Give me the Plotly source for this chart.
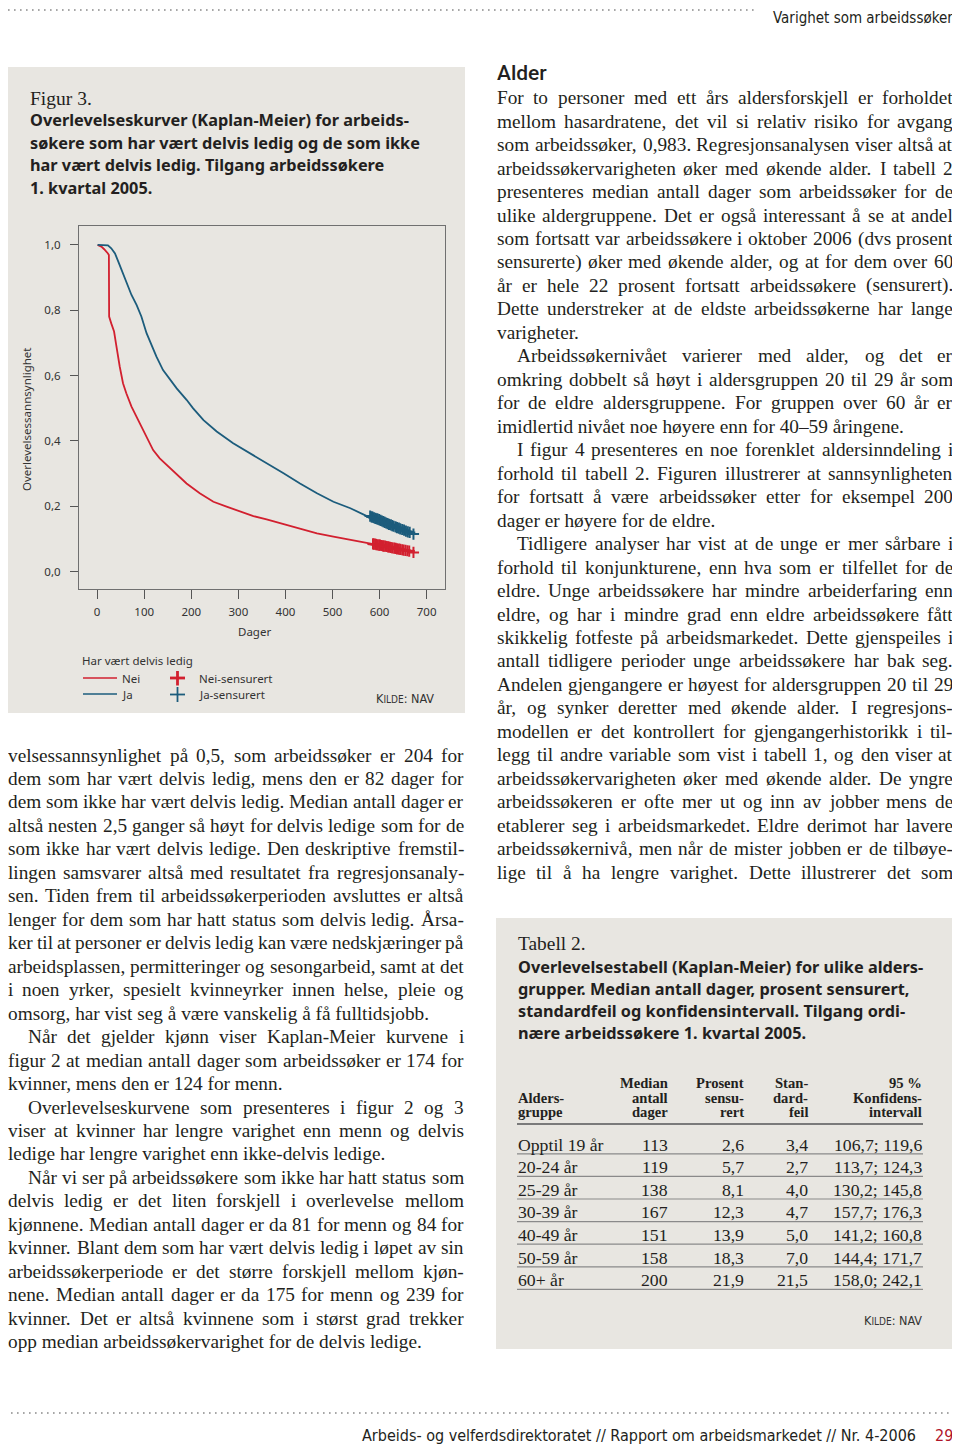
import plotly.graph_objects as go

# ---------------- chart data ----------------
nei_days = [1, 9, 15, 20, 23, 25, 25.5, 30, 36, 40, 43, 48, 55, 62, 73, 84, 98, 109, 119, 133, 148,
            169, 190, 218, 247, 275, 304, 332, 360, 396, 431, 467, 502, 538, 573, 587, 629, 672]
nei_surv = [1.000, 0.995, 0.987, 0.980, 0.974, 0.969, 0.781, 0.760, 0.735, 0.699, 0.668, 0.628, 0.577,
            0.546, 0.505, 0.474, 0.434, 0.403, 0.372, 0.347, 0.327, 0.296, 0.270, 0.240, 0.214, 0.199,
            0.184, 0.170, 0.160, 0.146, 0.133, 0.117, 0.107, 0.097, 0.089, 0.085, 0.073, 0.059]
ja_days = [1, 23, 30, 38, 45, 52, 62, 73, 84, 94, 105, 116, 126, 140, 155, 169, 190, 204, 226, 254,
           289, 325, 360, 396, 431, 467, 502, 538, 573, 608, 644, 672]
ja_surv = [1.000, 0.999, 0.990, 0.974, 0.949, 0.923, 0.883, 0.847, 0.816, 0.781, 0.730, 0.689, 0.658,
           0.617, 0.587, 0.561, 0.526, 0.500, 0.464, 0.429, 0.393, 0.362, 0.334, 0.301, 0.270, 0.240,
           0.214, 0.194, 0.170, 0.153, 0.133, 0.115]
nei_cens_days = [586, 588, 591, 593, 596, 599, 601, 604, 607, 609, 612, 615, 618, 621, 624, 627, 631,
                 634, 637, 641, 644, 648, 651, 655, 659, 663, 672]
nei_cens_surv = [0.085, 0.084, 0.084, 0.083, 0.082, 0.081, 0.081, 0.080, 0.079, 0.078, 0.078, 0.077,
                 0.076, 0.075, 0.074, 0.073, 0.072, 0.071, 0.070, 0.069, 0.068, 0.067, 0.066, 0.065,
                 0.064, 0.063, 0.059]
ja_cens_days = [580, 583, 585, 588, 591, 594, 596, 599, 602, 605, 608, 611, 614, 617, 620, 624, 627,
                630, 634, 637, 641, 644, 648, 652, 656, 660, 664, 672]
ja_cens_surv = [0.170, 0.168, 0.167, 0.165, 0.163, 0.162, 0.161, 0.159, 0.157, 0.155, 0.153, 0.151,
                0.149, 0.147, 0.145, 0.143, 0.141, 0.139, 0.137, 0.135, 0.133, 0.131, 0.129, 0.127,
                0.124, 0.122, 0.120, 0.115]
x_ticks = [0, 100, 200, 300, 400, 500, 600, 700]
y_ticks = [0.0, 0.2, 0.4, 0.6, 0.8, 1.0]

# ---------------- table data ----------------
age_groups = ["Opptil 19 år", "20-24 år", "25-29 år", "30-39 år", "40-49 år", "50-59 år", "60+ år"]
median_days = ["113", "119", "138", "167", "151", "158", "200"]
pct_censored = ["2,6", "5,7", "8,1", "12,3", "13,9", "18,3", "21,9"]
std_err = ["3,4", "2,7", "4,0", "4,7", "5,0", "7,0", "21,5"]
conf_int = ["106,7; 119,6", "113,7; 124,3", "130,2; 145,8", "157,7; 176,3",
            "141,2; 160,8", "144,4; 171,7", "158,0; 242,1"]

# ---------------- page text ----------------
fig_title = ["Overlevelseskurver (Kaplan-Meier) for arbeids-",
             "søkere som har vært delvis ledig og de som ikke",
             "har vært delvis ledig. Tilgang arbeidssøkere",
             "1. kvartal 2005."]
tab_title = ["Overlevelsestabell (Kaplan-Meier) for ulike alders-",
             "grupper. Median antall dager, prosent sensurert,",
             "standardfeil og konfidensintervall. Tilgang ordi-",
             "nære arbeidssøkere 1. kvartal 2005."]
left_paras = [
    (False, True, ["velsessannsynlighet på 0,5, som arbeidssøker er 204 for",
                   "dem som har vært delvis ledig, mens den er 82 dager for",
                   "dem som ikke har vært delvis ledig. Median antall dager er",
                   "altså nesten 2,5 ganger så høyt for delvis ledige som for de",
                   "som ikke har vært delvis ledige. Den deskriptive fremstil-",
                   "lingen samsvarer altså med resultatet fra regresjonsanaly-",
                   "sen. Tiden frem til arbeidssøkerperioden avsluttes er altså",
                   "lenger for dem som har hatt status som delvis ledig. Årsa-",
                   "ker til at personer er delvis ledig kan være nedskjæringer på",
                   "arbeidsplassen, permitteringer og sesongarbeid, samt at det",
                   "i noen yrker, spesielt kvinneyrker innen helse, pleie og",
                   "omsorg, har vist seg å være vanskelig å få fulltidsjobb."]),
    (True, True, ["Når det gjelder kjønn viser Kaplan-Meier kurvene i",
                  "figur 2 at median antall dager som arbeidssøker er 174 for",
                  "kvinner, mens den er 124 for menn."]),
    (True, True, ["Overlevelseskurvene som presenteres i figur 2 og 3",
                  "viser at kvinner har lengre varighet enn menn og delvis",
                  "ledige har lengre varighet enn ikke-delvis ledige."]),
    (True, True, ["Når vi ser på arbeidssøkere som ikke har hatt status som",
                  "delvis ledig er det liten forskjell i overlevelse mellom",
                  "kjønnene. Median antall dager er da 81 for menn og 84 for",
                  "kvinner. Blant dem som har vært delvis ledig i løpet av sin",
                  "arbeidssøkerperiode er det større forskjell mellom kjøn-",
                  "nene. Median antall dager er da 175 for menn og 239 for",
                  "kvinner. Det er altså kvinnene som i størst grad trekker",
                  "opp median arbeidssøkervarighet for de delvis ledige."]),
]
right_paras = [
    (False, True, ["For to personer med ett års aldersforskjell er forholdet",
                   "mellom hasardratene, det vil si relativ risiko for avgang",
                   "som arbeidssøker, 0,983. Regresjonsanalysen viser altså at",
                   "arbeidssøkervarigheten øker med økende alder. I tabell 2",
                   "presenteres median antall dager som arbeidssøker for de",
                   "ulike aldergruppene. Det er også interessant å se at andel",
                   "som fortsatt var arbeidssøkere i oktober 2006 (dvs prosent",
                   "sensurerte) øker med økende alder, og at for dem over 60",
                   "år er hele 22 prosent fortsatt arbeidssøkere (sensurert).",
                   "Dette understreker at de eldste arbeidssøkerne har lange",
                   "varigheter."]),
    (True, True, ["Arbeidssøkernivået varierer med alder, og det er",
                  "omkring dobbelt så høyt i aldersgruppen 20 til 29 år som",
                  "for de eldre aldersgruppene. For gruppen over 60 år er",
                  "imidlertid nivået noe høyere enn for 40–59 åringene."]),
    (True, True, ["I figur 4 presenteres en noe forenklet aldersinndeling i",
                  "forhold til tabell 2. Figuren illustrerer at sannsynligheten",
                  "for fortsatt å være arbeidssøker etter for eksempel 200",
                  "dager er høyere for de eldre."]),
    (True, False, ["Tidligere analyser har vist at de unge er mer sårbare i",
                   "forhold til konjunkturene, enn hva som er tilfellet for de",
                   "eldre. Unge arbeidssøkere har mindre arbeiderfaring enn",
                   "eldre, og har i mindre grad enn eldre arbeidssøkere fått",
                   "skikkelig fotfeste på arbeidsmarkedet. Dette gjenspeiles i",
                   "antall tidligere perioder unge arbeidssøkere har bak seg.",
                   "Andelen gjengangere er høyest for aldersgruppen 20 til 29",
                   "år, og synker deretter med økende alder. I regresjons-",
                   "modellen er det kontrollert for gjengangerhistorikk i til-",
                   "legg til andre variable som vist i tabell 1, og den viser at",
                   "arbeidssøkervarigheten øker med økende alder. De yngre",
                   "arbeidssøkeren er ofte mer ut og inn av jobber mens de",
                   "etablerer seg i arbeidsmarkedet. Eldre derimot har lavere",
                   "arbeidssøkernivå, men når de mister jobben er de tilbøye-",
                   "lige til å ha lengre varighet. Dette illustrerer det som"]),
]

# ---------------- styling ----------------
OFF = 8            # page body margin of the html page
W, H = 960 - OFF, 1446 - OFF
INK = "#231f20"
PANEL = "#e8e6e1"
RED = "#d2202f"
BLUE = "#1c5c7c"
SERIF = "Liberation Serif"
SANS = "Noto Sans"
COND = "Liberation Sans Narrow, DejaVu Sans Condensed, Roboto"
BODY = 19.3

def px(x):
    return (x - OFF) / W

def py(y):
    return 1 - (y - OFF) / H

annotations = []
shapes = []

def T(text, x, y, size, family=SERIF, color=INK, xanchor="left", yanchor="middle", weight=None, angle=0):
    f = dict(family=family, size=size, color=color)
    if weight:
        f["weight"] = weight
    annotations.append(dict(text=text, x=px(x), y=py(y), xref="paper", yref="paper",
                            xanchor=xanchor, yanchor=yanchor, showarrow=False, font=f,
                            borderpad=0, borderwidth=0, textangle=angle))

def L(x0, y0, x1, y1, color, width, dash=None):
    ln = dict(color=color, width=width)
    if dash:
        ln["dash"] = dash
    shapes.append(dict(type="line", xref="paper", yref="paper", x0=px(x0), y0=py(y0),
                       x1=px(x1), y1=py(y1), line=ln))

def R(x0, y0, x1, y1, color):
    shapes.append(dict(type="rect", xref="paper", yref="paper", x0=px(x0), y0=py(y0),
                       x1=px(x1), y1=py(y1), fillcolor=color, line=dict(width=0), layer="below"))

# Times-compatible advance widths (1/1000 em)
TW = {' ': 250, ',': 250, '.': 250, '-': 333, '(': 333, ')': 333, ':': 278, ';': 278, '/': 278,
      '%': 833, '+': 564, '–': 500,
      'A': 722, 'B': 667, 'C': 667, 'D': 722, 'E': 611, 'F': 556, 'G': 722, 'H': 722, 'I': 333,
      'J': 389, 'K': 722, 'L': 611, 'M': 889, 'N': 722, 'O': 722, 'P': 556, 'Q': 722, 'R': 667,
      'S': 556, 'T': 611, 'U': 722, 'V': 722, 'W': 944, 'X': 722, 'Y': 722, 'Z': 611, 'Å': 722,
      'Ø': 722, 'Æ': 889,
      'a': 444, 'b': 500, 'c': 444, 'd': 500, 'e': 444, 'f': 333, 'g': 500, 'h': 500, 'i': 278,
      'j': 278, 'k': 500, 'l': 278, 'm': 778, 'n': 500, 'o': 500, 'p': 500, 'q': 500, 'r': 333,
      's': 389, 't': 278, 'u': 500, 'v': 500, 'w': 722, 'x': 500, 'y': 500, 'z': 444, 'å': 444,
      'æ': 667, 'ø': 500}

def textwidth(s, size):
    return sum(TW.get(c, 500) for c in s) * size / 1000.0

def line_out(text, x0, x1, y, justify):
    words = text.split(" ")
    if not justify or len(words) == 1:
        T(text, x0, y, BODY)
        return
    widths = [textwidth(w, BODY) for w in words]
    gap = max(2.0, (x1 - x0 - sum(widths)) / (len(words) - 1))
    x = x0
    for i, (w, wd) in enumerate(zip(words, widths)):
        if i == len(words) - 1:
            T(w, x1, y, BODY, xanchor="right")
        else:
            T(w, x, y, BODY)
        x += wd + gap

def column(paras, x0, x1, y_first, step=23.47, indent=20):
    y = y_first
    for ind, last_ragged, lines in paras:
        for i, ln in enumerate(lines):
            xs = x0 + (indent if (ind and i == 0) else 0)
            just = not (last_ragged and i == len(lines) - 1)
            line_out(ln, xs, x1, y, just)
            y += step

# ---------------- page frame ----------------
R(7, 67, 465, 713, PANEL)
R(496, 918, 954, 1349, PANEL)
L(2, 10, 756, 10, "#8a8a8a", 1.6, dash="1.6px,4.4px")
T("Varighet som arbeidssøker", 953, 8.5, 15, family=COND, color=INK, xanchor="right", yanchor="top")
L(5, 1413, 954, 1413, "#8a8a8a", 1.6, dash="1.6px,4.4px")
T("Arbeids- og velferdsdirektoratet // Rapport om arbeidsmarkedet // Nr. 4-2006", 916, 1435, 16,
  family=COND, xanchor="right")
T("29", 953, 1435, 16, family=COND, color="#b0152a", xanchor="right")

# ---------------- figure panel text ----------------
T("Figur 3.", 30, 98, 19.5)
for i, ln in enumerate(fig_title):
    T(ln, 30, 120 + i * 22.7, 16.3, family=SANS, weight=700)
T("Overlevelsessannsynlighet", 27, 420, 11.5, family=SANS, color="#333", xanchor="center",
  yanchor="middle", angle=-90)
T("Dager", 254, 631, 11.5, family=SANS, color="#333", xanchor="center")
T("Har vært delvis ledig", 82, 660, 11.5, family=SANS, color="#333")
L(83, 678, 117, 678, RED, 1.6)
L(83, 694, 117, 694, BLUE, 1.6)
T("Nei", 122, 678, 11.5, family=SANS, color="#333")
T("Ja", 122, 694, 11.5, family=SANS, color="#333")
L(170, 678, 185, 678, RED, 2.8)
L(177.5, 671, 177.5, 685.5, RED, 2.8)
L(170, 694.5, 185, 694.5, BLUE, 1.8)
L(177.5, 687, 177.5, 702, BLUE, 1.8)
T("Nei-sensurert", 199, 678, 11.5, family=SANS, color="#333")
T("Ja-sensurert", 199, 694, 11.5, family=SANS, color="#333")
T("K<span style='font-size:10px'>ILDE</span>: NAV", 434, 698, 12.5, family=COND, color="#333",
  xanchor="right")

# ---------------- body columns ----------------
T("Alder", 497, 73, 21, family="Roboto", weight=500)
column(right_paras, 496.8, 953.3, 97.7)
column(left_paras, 8, 463.5, 755)

# ---------------- table ----------------
T("Tabell 2.", 517.5, 943, 19.4)
for i, ln in enumerate(tab_title):
    T(ln, 517.5, 966.7 + i * 22.2, 16.3, family=SANS, weight=700)
hdr_y = [1083, 1097.5, 1112]
col_right = [668, 744, 808, 922]
headers = [["Median", "antall", "dager"], ["Prosent", "sensu-", "rert"],
           ["Stan-", "dard-", "feil"], ["95 %", "Konfidens-", "intervall"]]
T("<b>Alders-</b>", 517.5, hdr_y[1], 14.6)
T("<b>gruppe</b>", 517.5, hdr_y[2], 14.6)
for cx, hl in zip(col_right, headers):
    for yy, h in zip(hdr_y, hl):
        T("<b>" + h + "</b>", cx, yy, 14.6, xanchor="right")
L(517, 1124, 923, 1124, "#7a7a7a", 2)
for r in range(len(age_groups)):
    ry = 1144.5 + r * 22.6
    T(age_groups[r], 517.5, ry, 17.7)
    for cx, vals in zip(col_right, [median_days, pct_censored, std_err, conf_int]):
        T(vals[r], cx, ry, 17.7, xanchor="right")
    L(517, ry + 9.3, 923, ry + 9.3, "#8a8a8a", 1.2)
T("K<span style='font-size:10px'>ILDE</span>: NAV", 922, 1320, 12.5, family=COND, color="#333",
  xanchor="right")

# ---------------- chart ----------------
fig = go.Figure()
fig.add_trace(go.Scatter(x=nei_days, y=nei_surv, mode="lines", line=dict(color=RED, width=1.8),
                         name="Nei", showlegend=False))
fig.add_trace(go.Scatter(x=ja_days, y=ja_surv, mode="lines", line=dict(color=BLUE, width=1.8),
                         name="Ja", showlegend=False))
fig.add_trace(go.Scatter(x=nei_cens_days, y=nei_cens_surv, mode="markers", name="Nei-sensurert",
                         marker=dict(symbol="cross-thin", size=8, line=dict(color=RED, width=2)),
                         showlegend=False))
fig.add_trace(go.Scatter(x=ja_cens_days, y=ja_cens_surv, mode="markers", name="Ja-sensurert",
                         marker=dict(symbol="cross-thin", size=8, line=dict(color=BLUE, width=2)),
                         showlegend=False))

axis_font = dict(family=SANS, size=11.5, color="#333")
fig.update_layout(
    width=W, height=H, margin=dict(l=0, r=0, t=0, b=0),
    paper_bgcolor="white", plot_bgcolor="rgba(0,0,0,0)",
    separators=", ",
    xaxis=dict(domain=[px(79), px(445)], range=[-38.5, 739], tickvals=x_ticks,
               ticks="outside", ticklen=9, tickcolor="#555", tickwidth=1,
               showline=True, mirror=True, linecolor="#707070", linewidth=1.2,
               showgrid=False, zeroline=False, tickfont=axis_font, ticklabelstandoff=3,
               fixedrange=True),
    yaxis=dict(domain=[py(589.3), py(225.7)], range=[-0.054, 1.059], tickvals=y_ticks,
               tickformat=".1f", ticks="outside", ticklen=8, tickcolor="#555", tickwidth=1,
               showline=True, mirror=True, linecolor="#707070", linewidth=1.2,
               showgrid=False, zeroline=False, tickfont=axis_font, ticklabelstandoff=7,
               fixedrange=True),
    annotations=annotations, shapes=shapes, showlegend=False,
)
fig.write_html("out.html")
